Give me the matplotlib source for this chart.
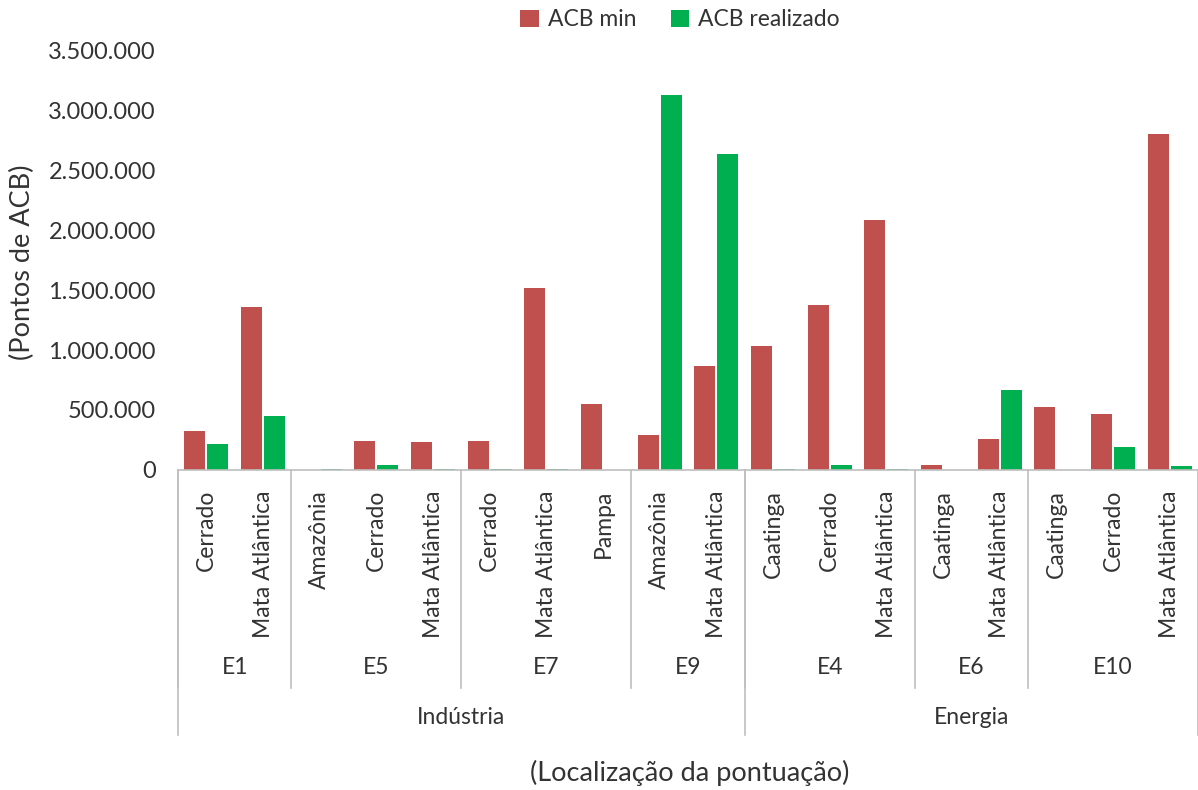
import matplotlib
matplotlib.use("Agg")
import matplotlib.pyplot as plt
from matplotlib.ticker import FuncFormatter, MultipleLocator
from matplotlib.patches import Patch

plt.rcParams['font.family'] = ['Lato', 'DejaVu Sans']

categories = ["Cerrado", "Mata Atlântica",
              "Amazônia", "Cerrado", "Mata Atlântica",
              "Cerrado", "Mata Atlântica", "Pampa",
              "Amazônia", "Mata Atlântica",
              "Caatinga", "Cerrado", "Mata Atlântica",
              "Caatinga", "Mata Atlântica",
              "Caatinga", "Cerrado", "Mata Atlântica"]
groups = ["E1", "E5", "E7", "E9", "E4", "E6", "E10"]
group_sizes = [2, 3, 3, 2, 3, 2, 3]
sectors = ["Indústria", "Energia"]
sector_sizes = [10, 8]

acb_min = [325000, 1358000, 0, 242000, 233000, 242000, 1520000, 547000,
           294000, 867000, 1035000, 1375000, 2085000, 39000, 258000,
           522000, 469000, 2797000]
acb_real = [217000, 452000, 6000, 39000, 6000, 6000, 6000, 0,
            3128000, 2631000, 6000, 39000, 6000, 0, 664000,
            0, 189000, 36000]

RED = "#C0504D"
GREEN = "#00B050"
TXT = "#333333"
LINE = "#BFBFBF"
FS = 16.5

W, H = 1198, 790
fig = plt.figure(figsize=(W / 100, H / 100), dpi=100)
ax = fig.add_axes([178 / W, (H - 470) / H, (1198 - 178) / W, 420 / H])

n = len(categories)
x = list(range(n))
bw = 0.37
ax.bar([i - 0.205 for i in x], acb_min, width=bw, color=RED, label="ACB min")
ax.bar([i + 0.205 for i in x], acb_real, width=bw, color=GREEN, label="ACB realizado")

ax.set_xlim(-0.5, n - 0.5)
ax.set_ylim(0, 3500000)
ax.yaxis.set_major_locator(MultipleLocator(500000))
ax.yaxis.set_major_formatter(FuncFormatter(lambda v, p: f"{int(v):,}".replace(",", ".")))
ax.tick_params(axis='y', length=0, pad=16, labelsize=17, labelcolor=TXT)
ax.set_xticks([])
for s in ["top", "right", "left"]:
    ax.spines[s].set_visible(False)
ax.spines["bottom"].set_color(LINE)
ax.spines["bottom"].set_linewidth(1.2)

tr = ax.get_xaxis_transform()
# category labels
for i, c in enumerate(categories):
    ax.text(i, -20 / 420, c, rotation=90, ha='center', va='top', transform=tr,
            fontsize=FS, color=TXT)

y_grp = -218 / 420
y_sec = -265 / 420
# group separators and labels
start = 0
for g, sz in zip(groups, group_sizes):
    ax.plot([start - 0.5, start - 0.5], [0, y_grp], transform=tr, color=LINE,
            lw=1.2, clip_on=False)
    ax.text(start - 0.5 + sz / 2, -197 / 420, g, ha='center', va='center',
            transform=tr, fontsize=FS, color=TXT)
    start += sz
# sector separators and labels
start = 0
for s, sz in zip(sectors, sector_sizes):
    ax.plot([start - 0.5, start - 0.5], [0, y_sec], transform=tr, color=LINE,
            lw=1.2, clip_on=False)
    ax.text(start - 0.5 + sz / 2, -248 / 420, s, ha='center', va='center',
            transform=tr, fontsize=FS, color=TXT)
    start += sz
ax.plot([n - 0.5, n - 0.5], [0, y_sec], transform=tr, color=LINE,
        lw=1.2, clip_on=False)

fig.text(22 / W, 1 - 262 / H, "(Pontos de ACB)", rotation=90, ha='center',
         va='center', fontsize=19.5, color=TXT)
fig.text(690 / W, 1 - 773 / H, "(Localização da pontuação)", ha='center',
         va='center', fontsize=19.5, color=TXT)

handles = [Patch(facecolor=RED, label="ACB min"),
           Patch(facecolor=GREEN, label="ACB realizado")]
fig.legend(handles=handles, loc='center', bbox_to_anchor=(680 / W, 1 - 20 / H),
           ncol=2, frameon=False, fontsize=16.5, handlelength=0.8,
           handleheight=0.8, handletextpad=0.4, columnspacing=1.5,
           labelcolor=TXT)

fig.savefig("out.png", dpi=100)
